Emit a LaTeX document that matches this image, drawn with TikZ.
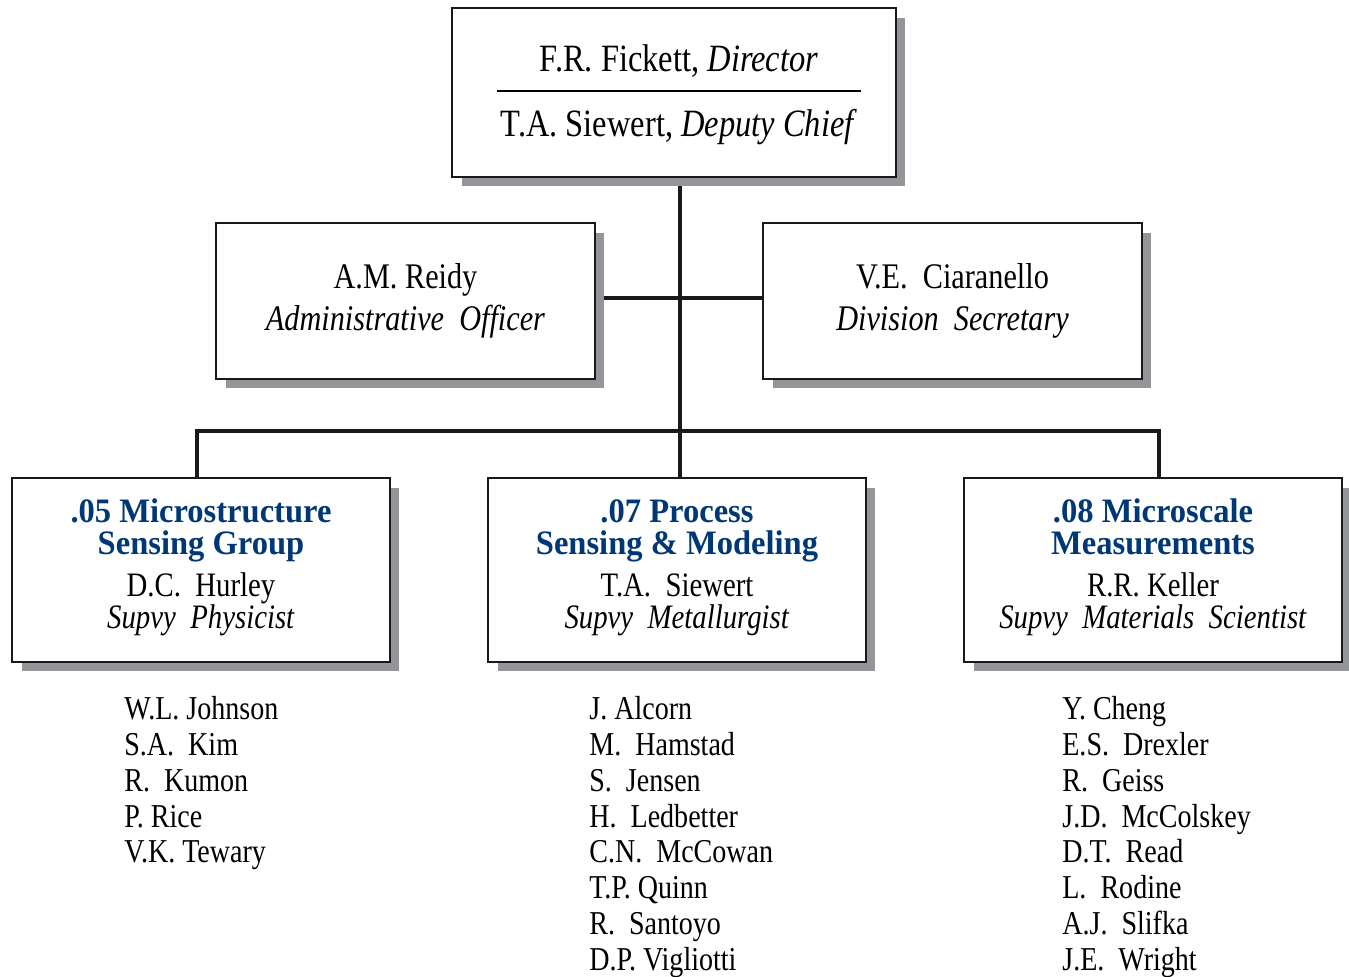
\documentclass[tikz,border=0pt]{standalone}
\usepackage{fontspec}
\setmainfont{Liberation Serif}[FakeStretch=0.84]
\newfontfamily\headfont{Liberation Serif}[FakeStretch=0.95]
\usepackage{tikz}
\usetikzlibrary{shadows,backgrounds}
\definecolor{groupblue}{RGB}{0,56,118}
\definecolor{shadowgray}{RGB}{147,149,152}
\tikzstyle{box}=[draw=black!90, line width=1.5pt, fill=white, rectangle, inner sep=0pt, align=center,
	drop shadow={shadow xshift=0.19cm, shadow yshift=-0.19cm, fill=shadowgray, opacity=1}]
\tikzstyle{link}=[draw=black!90, line width=2.4pt]
\tikzstyle{staff}=[anchor=north west, inner sep=0pt, align=left, font=\fontsize{19}{20.4}\selectfont]
\newcommand{\grouphead}[1]{{\headfont\bfseries\color{groupblue}\fontsize{19.5}{18.7}\selectfont #1}}

\begin{document}
\begin{tikzpicture}[x=0.02cm, y=-0.02cm]
		\useasboundingbox (0,0) rectangle (1349,977);

		\node[box, minimum width=8.88cm, minimum height=3.38cm, text depth=2.5pt, font=\fontsize{22}{18.6}\selectfont] (dir) at (674,92.5) {
			\hspace*{0.2cm}F.R.~Fickett, \textit{Director}\\
			\hspace*{0.2cm}\rule[6.8pt]{7.3cm}{0.8pt}\\
			\hspace*{0.2cm}T.A.~Siewert, \textit{Deputy Chief}
		};

		\node[box, minimum width=7.58cm, minimum height=3.12cm, font=\fontsize{20.5}{23.8}\selectfont] (admin) at (405.5,301) {
			A.M.~Reidy\\ \textit{Administrative~~Officer}
		};
		\node[box, minimum width=7.58cm, minimum height=3.12cm, font=\fontsize{20.5}{23.8}\selectfont] (secr) at (952.5,301) {
			V.E.~~Ciaranello\\ \textit{Division~~Secretary}
		};

		\node[box, minimum width=7.56cm, minimum height=3.68cm, text depth=7pt, font=\fontsize{19.5}{18.1}\selectfont] (g05) at (201,570) {
			\grouphead{.05 Microstructure}\\
			\grouphead{Sensing Group}\\[6pt]
			D.C.~~Hurley\\
			\textit{Supvy~~Physicist}
		};
		\node[box, minimum width=7.56cm, minimum height=3.68cm, text depth=7pt, font=\fontsize{19.5}{18.1}\selectfont] (g07) at (677,570) {
			\grouphead{.07 Process}\\
			\grouphead{Sensing \& Modeling}\\[6pt]
			T.A.~~Siewert\\
			\textit{Supvy~~Metallurgist}
		};
		\node[box, minimum width=7.56cm, minimum height=3.68cm, text depth=7pt, font=\fontsize{19.5}{18.1}\selectfont] (g08) at (1153,570) {
			\grouphead{.08 Microscale}\\
			\grouphead{Measurements}\\[6pt]
			R.R.~Keller\\
			\textit{Supvy~~Materials~~Scientist}
		};

		\node[staff] (staff05) at (124,696) {
			W.L.~Johnson\\ S.A.~~Kim\\ R.~~Kumon\\ P.~Rice\\ V.K.~Tewary
		};
		\node[staff] (staff07) at (589,696) {
			J.~Alcorn\\ M.~~Hamstad\\ S.~~Jensen\\ H.~~Ledbetter\\ C.N.~~McCowan\\
			T.P.~Quinn\\ R.~~Santoyo\\ D.P.~Vigliotti
		};
		\node[staff] (staff08) at (1062,696) {
			Y.~Cheng\\ E.S.~~Drexler\\ R.~~Geiss\\ J.D.~~McColskey\\ D.T.~~Read\\
			L.~~Rodine\\ A.J.~~Slifka\\ J.E.~~Wright
		};

		\coordinate (hub) at (680,298);
		\coordinate (bar) at (680,431);

		\begin{scope}[on background layer]
			\draw[link] (hub |- dir.south) -- (hub |- g07.north);
			\draw[link] (admin.east |- hub) -- (secr.west |- hub);
			\draw[link] ([xshift=-0.08cm]g05.north) |- (bar) -| ([xshift=0.12cm]g08.north);
		\end{scope}
\end{tikzpicture}
\end{document}
